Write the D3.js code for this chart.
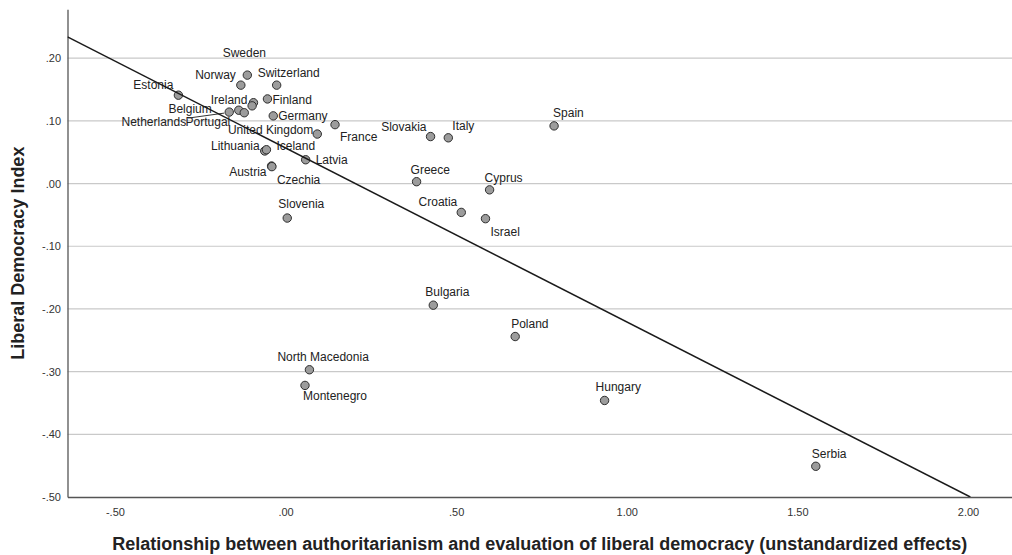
<!DOCTYPE html>
<html>
<head>
<meta charset="utf-8">
<script src="https://cdn.jsdelivr.net/npm/d3@7/dist/d3.min.js"></script>
<style>
  html, body { margin: 0; padding: 0; background: #fff; }
  svg { display: block; font-family: "Liberation Sans", Arial, sans-serif; }
</style>
</head>
<body>
<svg id="chart" width="1012" height="555"></svg>
<script>
// Country scores: authoritarianism effect (x) vs. liberal democracy index (y)
const countries = [
  "Sweden", "Norway", "Switzerland", "Estonia", "Ireland", "", "Finland",
  "Netherlands", "Belgium", "Portugal", "Germany", "United Kingdom", "France",
  "Slovakia", "Italy", "Spain", "Lithuania", "Iceland", "Latvia", "Austria",
  "Czechia", "Greece", "Cyprus", "Croatia", "Israel", "Slovenia", "Bulgaria",
  "Poland", "North Macedonia", "Montenegro", "Hungary", "Serbia"
];
const authEffect = [
  -0.112, -0.131, -0.026, -0.314, -0.094, -0.098, -0.053,
  -0.165, -0.137, -0.121, -0.036, 0.093, 0.145,
  0.425, 0.477, 0.787, -0.061, -0.056, 0.059, -0.041,
  -0.040, 0.384, 0.598, 0.515, 0.586, 0.005, 0.433,
  0.673, 0.070, 0.057, 0.935, 1.554
];
const ldi = [
  0.173, 0.157, 0.157, 0.141, 0.129, 0.124, 0.135,
  0.114, 0.117, 0.113, 0.108, 0.079, 0.094,
  0.075, 0.073, 0.092, 0.052, 0.054, 0.038, 0.028,
  0.027, 0.003, -0.010, -0.046, -0.056, -0.055, -0.194,
  -0.244, -0.297, -0.322, -0.346, -0.451
];

// Linear fit line
const fitIntercept = 0.0567;
const fitSlope = -0.2774;

const xTicks = [-0.5, 0, 0.5, 1.0, 1.5, 2.0];
const xTickLabels = ["-.50", ".00", ".50", "1.00", "1.50", "2.00"];
const yTicks = [0.2, 0.1, 0.0, -0.1, -0.2, -0.3, -0.4, -0.5];
const yTickLabels = [".20", ".10", ".00", "-.10", "-.20", "-.30", "-.40", "-.50"];

const xTitle = "Relationship between authoritarianism and evaluation of liberal democracy (unstandardized effects)";
const yTitle = "Liberal Democracy Index";

// Label placement around each marker: [anchor, dx, dy]
const labelPlacement = {
  "Sweden": ["middle", -3, -18],
  "Norway": ["end", -5, -6],
  "Switzerland": ["start", -19, -8],
  "Estonia": ["end", -5, -6],
  "Ireland": ["end", -6, 1],
  "Finland": ["start", 5, 5],
  "Belgium": ["end", -27, 2.5],
  "Netherlands": ["end", -43, 14],
  "Portugal": ["end", -14, 13],
  "Germany": ["start", 5, 4],
  "United Kingdom": ["end", -4, 0],
  "France": ["start", 5, 16],
  "Slovakia": ["end", -4, -6],
  "Italy": ["start", 4, -8],
  "Spain": ["start", -1, -9],
  "Lithuania": ["end", -5, -0.5],
  "Iceland": ["start", 10, 0.5],
  "Latvia": ["start", 10, 4.5],
  "Austria": ["end", -5, 10],
  "Czechia": ["start", 5, 17],
  "Greece": ["start", -6, -8],
  "Cyprus": ["start", -5, -8],
  "Croatia": ["end", -4, -6.5],
  "Israel": ["start", 5, 17],
  "Slovenia": ["start", -9, -10],
  "Bulgaria": ["start", -8, -9],
  "Poland": ["start", -4, -9],
  "North Macedonia": ["start", -32, -9],
  "Montenegro": ["start", -2, 15],
  "Hungary": ["start", -9, -9],
  "Serbia": ["start", -4, -8]
};
const leaderLabels = ["Netherlands"];

const data = countries.map((c, i) => ({ country: c, x: authEffect[i], y: ldi[i] }));

const svg = d3.select("#chart");
const plot = { left: 67.5, right: 1012, top: 9.3, bottom: 497 };

const x = d3.scaleLinear().domain([-0.639, 2.129]).range([plot.left, plot.right]);
const y = d3.scaleLinear().domain([-0.5, 0.278]).range([plot.bottom, plot.top]);

// Horizontal gridlines
svg.append("g")
  .selectAll("line")
  .data(yTicks.filter(v => v > -0.5))
  .join("line")
  .attr("x1", plot.left).attr("x2", plot.right)
  .attr("y1", d => y(d)).attr("y2", d => y(d))
  .attr("stroke", "#c9c9c9").attr("stroke-width", 1.2);

// Y axis
const yAxis = d3.axisLeft(y).tickValues(yTicks)
  .tickFormat((d, i) => yTickLabels[i]).tickSize(0).tickPadding(6.5);
const gy = svg.append("g").attr("transform", `translate(${plot.left},0)`).call(yAxis);
gy.select(".domain").attr("stroke", "#555").attr("stroke-width", 1.3);
gy.selectAll("text").attr("font-size", 11).attr("fill", "#333")
  .attr("font-family", "'Liberation Sans', Arial, sans-serif");

// X axis
const xAxis = d3.axisBottom(x).tickValues(xTicks)
  .tickFormat((d, i) => xTickLabels[i]).tickSize(0).tickPadding(11);
const gx = svg.append("g").attr("transform", `translate(0,${plot.bottom})`).call(xAxis);
gx.select(".domain").attr("stroke", "#555").attr("stroke-width", 1.3);
gx.selectAll("text").attr("font-size", 11).attr("fill", "#333")
  .attr("font-family", "'Liberation Sans', Arial, sans-serif");

// Clip for the fit line
svg.append("clipPath").attr("id", "plotClip")
  .append("rect")
  .attr("x", plot.left).attr("y", plot.top)
  .attr("width", plot.right - plot.left).attr("height", plot.bottom - plot.top);

// Markers
svg.append("g")
  .selectAll("circle")
  .data(data)
  .join("circle")
  .attr("cx", d => x(d.x)).attr("cy", d => y(d.y))
  .attr("r", 4.2)
  .attr("fill", "#9c9c9c").attr("stroke", "#2e2e2e").attr("stroke-width", 1);

// Point labels
const labelled = data.filter(d => d.country && labelPlacement[d.country]);
svg.append("g")
  .selectAll("text")
  .data(labelled)
  .join("text")
  .attr("x", d => x(d.x) + labelPlacement[d.country][1])
  .attr("y", d => y(d.y) + labelPlacement[d.country][2])
  .attr("text-anchor", d => labelPlacement[d.country][0])
  .attr("font-size", 12).attr("fill", "#222")
  .text(d => d.country);

// Leader lines from labels to markers
svg.append("g")
  .selectAll("line")
  .data(data.filter(d => leaderLabels.includes(d.country)))
  .join("line")
  .attr("x1", d => x(d.x) + labelPlacement[d.country][1] + 2)
  .attr("y1", d => y(d.y) + labelPlacement[d.country][2] - 8)
  .attr("x2", d => x(d.x) - 5)
  .attr("y2", d => y(d.y) + 1)
  .attr("stroke", "#333").attr("stroke-width", 1);

// Fit line
const xEnd = Math.min(x.domain()[1], (y.domain()[0] - fitIntercept) / fitSlope);
const xStart = x.domain()[0];
svg.append("line")
  .attr("clip-path", "url(#plotClip)")
  .attr("x1", x(xStart)).attr("y1", y(fitIntercept + fitSlope * xStart))
  .attr("x2", x(xEnd)).attr("y2", y(fitIntercept + fitSlope * xEnd))
  .attr("stroke", "#1a1a1a").attr("stroke-width", 1.5);

// Axis titles
svg.append("text")
  .attr("x", (plot.left + plot.right) / 2).attr("y", 550)
  .attr("text-anchor", "middle")
  .attr("font-size", 18).attr("font-weight", "bold").attr("fill", "#222")
  .text(xTitle);

svg.append("text")
  .attr("transform", `translate(23.5,${(plot.top + plot.bottom) / 2}) rotate(-90)`)
  .attr("text-anchor", "middle")
  .attr("font-size", 18).attr("font-weight", "bold").attr("fill", "#222")
  .text(yTitle);
</script>
</body>
</html>
